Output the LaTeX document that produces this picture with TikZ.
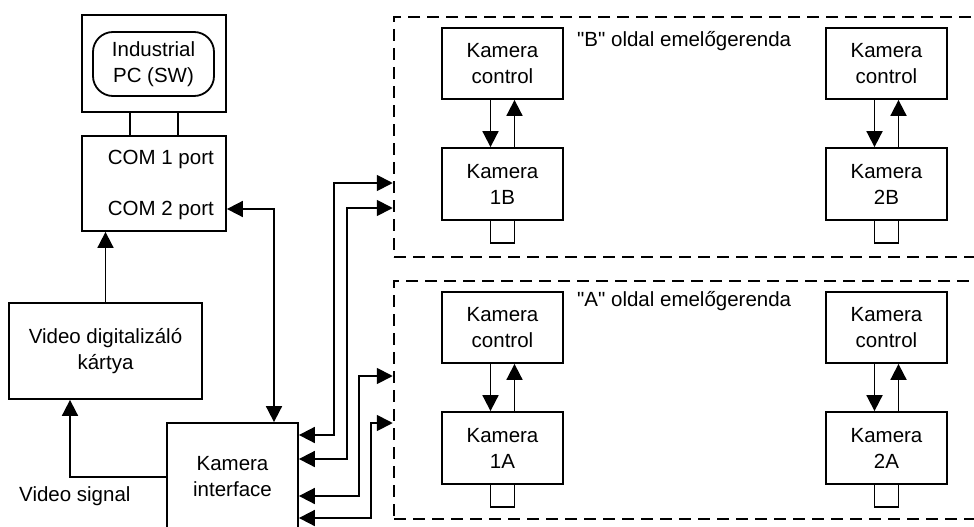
\documentclass[tikz,border=0pt]{standalone}
\usepackage{fontspec}
\setmainfont{Liberation Sans}[Ligatures=TeXOff]
\usetikzlibrary{arrows.meta}
\begin{document}
\begin{tikzpicture}[x=1pt,y=-1pt,
  every node/.style={font=\fontsize{20.5}{26}\selectfont, align=center, inner sep=0pt},
  box/.style={draw, line width=1.8pt},
  plain/.style={inner sep=0pt},
  dashbox/.style={draw, line width=2.5pt, dash pattern=on 12pt off 7pt},
  wire/.style={line width=1.8pt},
  >={Triangle[length=16pt,width=16pt]}]
\useasboundingbox (0,0) rectangle (974,527);
\clip (0,0) rectangle (974,527);

% industrial PC and its serial ports
\node[box, minimum width=144pt, minimum height=97pt] (pc) at (154,63.5) {};
\node[box, rounded corners=20pt, minimum width=121pt, minimum height=64pt] (pcsw) at (153.5,64) {Industrial\\PC (SW)};
\node[box, minimum width=144pt, minimum height=95pt] (com) at (154,183.5) {};
\node[plain, anchor=base east] (com1txt) at (214,164) {COM 1 port};
\node[plain, anchor=base east] (com2txt) at (214,215) {COM 2 port};
\coordinate (com2port) at (com.east |- 0,209);
\draw[wire] ([xshift=-24pt]pc.south) -- ([xshift=-24pt]com.north);
\draw[wire] ([xshift=24pt]pc.south) -- ([xshift=24pt]com.north);

% frame grabber and camera interface
\node[box, minimum width=193pt, minimum height=96pt] (vid) at (105.5,351) {Video digitalizáló\\kártya};
\node[box, minimum width=131pt, minimum height=120pt] (iface) at (232.5,483) {};
\node[plain] (ifacetxt) at (232.5,477) {Kamera\\interface};
\node[plain, anchor=base west] (sig) at (19,501) {Video signal};

\draw[wire,->] (vid.north) -- (vid.north |- com.south);
\draw[wire,<->] (com2port) -| (iface.north -| 274,0);
\draw[wire,->] (iface.west |- 0,477) -| (vid.south -| 70,0);

% lifting beams
\node[dashbox, minimum width=596pt, minimum height=240pt] (beamB) at (692,137) {};
\node[dashbox, minimum width=596pt, minimum height=238pt] (beamA) at (692,400) {};
\node[plain, anchor=base west] (beamBtxt) at (577,47) {"B" oldal emelőgerenda};
\node[plain, anchor=base west] (beamAtxt) at (577,306) {"A" oldal emelőgerenda};

% cameras with their controllers
\foreach \cx/\cy/\id in {502.5/0/1B, 886.5/0/2B, 502.5/264/1A, 886.5/264/2A} {
  \node[box, minimum width=121pt, minimum height=71pt] (ctl\id) at (\cx,63.5+\cy) {Kamera\\control};
  \node[box, minimum width=121pt, minimum height=72pt] (cam\id) at (\cx,184+\cy) {Kamera\\\id};
  \node[box, minimum width=24pt, minimum height=23pt] (lens\id) at (\cx,231.5+\cy) {};
  \draw[wire,->] ([xshift=-12pt]ctl\id.south) -- ([xshift=-12pt]cam\id.north);
  \draw[wire,->] ([xshift=12pt]cam\id.north) -- ([xshift=12pt]ctl\id.south);
}

% cabling between the interface and the beams
\coordinate (inB1) at (beamB.west |- 0,183);
\coordinate (inB2) at (beamB.west |- 0,208);
\coordinate (inA1) at (beamA.west |- 0,376);
\coordinate (inA2) at (beamA.west |- 0,423);
\draw[wire,<->] (iface.east |- 0,435) -- ++(35,0) |- (inB1);
\draw[wire,<->] (iface.east |- 0,459) -- ++(48,0) |- (inB2);
\draw[wire,<->] (iface.east |- 0,496) -- ++(60,0) |- (inA1);
\draw[wire,<->] (iface.east |- 0,518) -- ++(72,0) |- (inA2);
\end{tikzpicture}
\end{document}
